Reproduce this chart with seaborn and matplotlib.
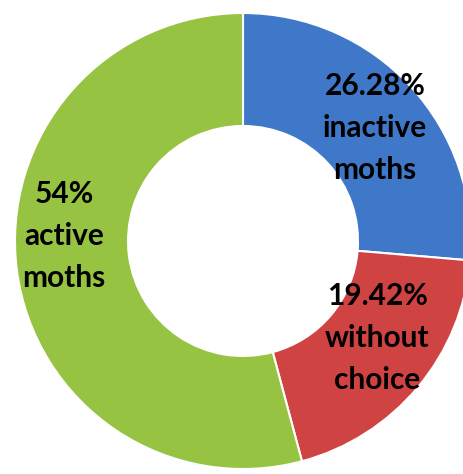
import matplotlib
matplotlib.use("Agg")
import matplotlib.pyplot as plt
import seaborn as sns

# data
categories = ["inactive moths", "without choice", "active moths"]
shares = [26.28, 19.42, 54.0]
pct_text = ["26.28%", "19.42%", "54%"]
slice_colors = ["#3f78c8", "#d04343", "#97c342"]

sns.set_theme(style="white")
plt.rcParams["font.family"] = ["Lato", "DejaVu Sans"]

fig = plt.figure(figsize=(4.64, 4.74), dpi=100)
ax = fig.add_axes([0, 0, 1, 1])

cx, cy, r = 243, 233, 228
wedges, _ = ax.pie(
    shares, colors=slice_colors, startangle=90, counterclock=False,
    center=(cx, cy), radius=r, frame=True,
    wedgeprops=dict(width=113, edgecolor="white", linewidth=1.5),
)
ax.set_xlim(0, 464)
ax.set_ylim(0, 474)
ax.set_aspect("equal")
ax.axis("off")

label_pos = [(375, 474 - 128), (377, 474 - 338), (64, 474 - 236)]
for (x, y), p, c in zip(label_pos, pct_text, categories):
    ax.text(x, y, p + "\n" + c.replace(" ", "\n"), ha="center", va="center",
            fontsize=21.5, fontweight="bold", color="black", linespacing=1.6)

fig.savefig("out.png", dpi=100)
